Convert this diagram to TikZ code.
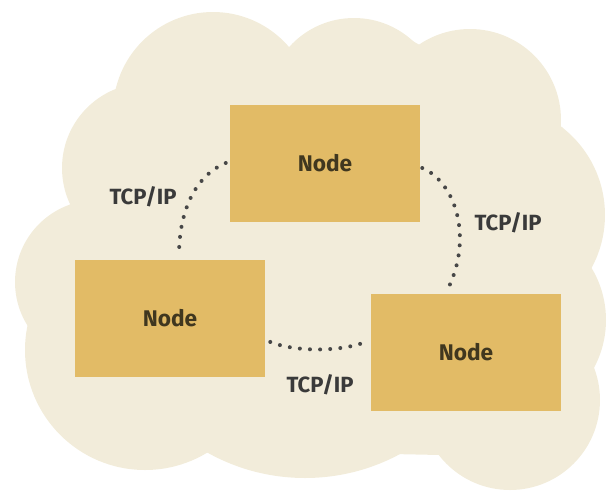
\documentclass[tikz,border=0pt]{standalone}
\usepackage{fontspec}
\setmainfont{Fira Sans}
\definecolor{cloudfill}{HTML}{F2ECDA}
\definecolor{nodefill}{HTML}{E2BB66}
\definecolor{nodetext}{HTML}{40371F}
\definecolor{lbltext}{HTML}{3A3A3A}
\definecolor{dotcol}{HTML}{474747}
\begin{document}
\begin{tikzpicture}[x=0.75pt,y=-0.75pt,
  box/.style={fill=nodefill,minimum width=142.5pt,minimum height=87.75pt,inner sep=0pt,
    font=\fontsize{17}{19}\selectfont\bfseries,text=nodetext},
  lbl/.style={font=\fontsize{16.5}{18}\selectfont\bfseries,text=lbltext,inner sep=0pt},
  link/.style={draw=dotcol,line width=3pt,line cap=round,dash pattern=on 0pt off 7.6pt}]
\useasboundingbox (0,0) rectangle (608,490);
\clip (0,0) rectangle (608,490);
% cloud
\fill[cloudfill] (113,93) -- (287,48) -- (411,40) -- (563,128) -- (590,268) -- (440,455) -- (200,450) -- (27,337) -- (67,212) -- cycle;
\fill[cloudfill] (213,112) circle (100);
\fill[cloudfill] (354,105) circle (87);
\fill[cloudfill] (470,120) circle (91);
\fill[cloudfill] (494,215) circle (111);
\fill[cloudfill] (505,320) circle (101);
\fill[cloudfill] (510,400) circle (90);
\fill[cloudfill] (305,278) circle (200);
\fill[cloudfill] (145,350) circle (120);
\fill[cloudfill] (97,282) circle (82);
\fill[cloudfill] (147,168) circle (85);
% nodes
\node[box] (top) at (325,163) {Node};
\node[box] (lft) at (170,318.5) {Node};
\node[box] (rgt) at (466,352.5) {Node};
% links
\draw[link] ([xshift=-3pt]top.west) .. controls +(-33,14) and +(0,-41) .. ([xshift=6.75pt,yshift=3pt]lft.north);
\draw[link] ([xshift=1.5pt,yshift=-3.75pt]top.east) .. controls +(33,14) and +(27,-53) .. ([xshift=-14.25pt,yshift=2.25pt]rgt.north);
\draw[link] ([xshift=3.75pt,yshift=-17.6pt]lft.east) .. controls +(25,10) and +(-26,10) .. ([xshift=-3.75pt,yshift=7.9pt]rgt.west);
% labels
\node[lbl] (lblL) at (143,197) {TCP/IP};
\node[lbl] (lblR) at (508,223) {TCP/IP};
\node[lbl] (lblB) at (320,385) {TCP/IP};
\end{tikzpicture}
\end{document}
